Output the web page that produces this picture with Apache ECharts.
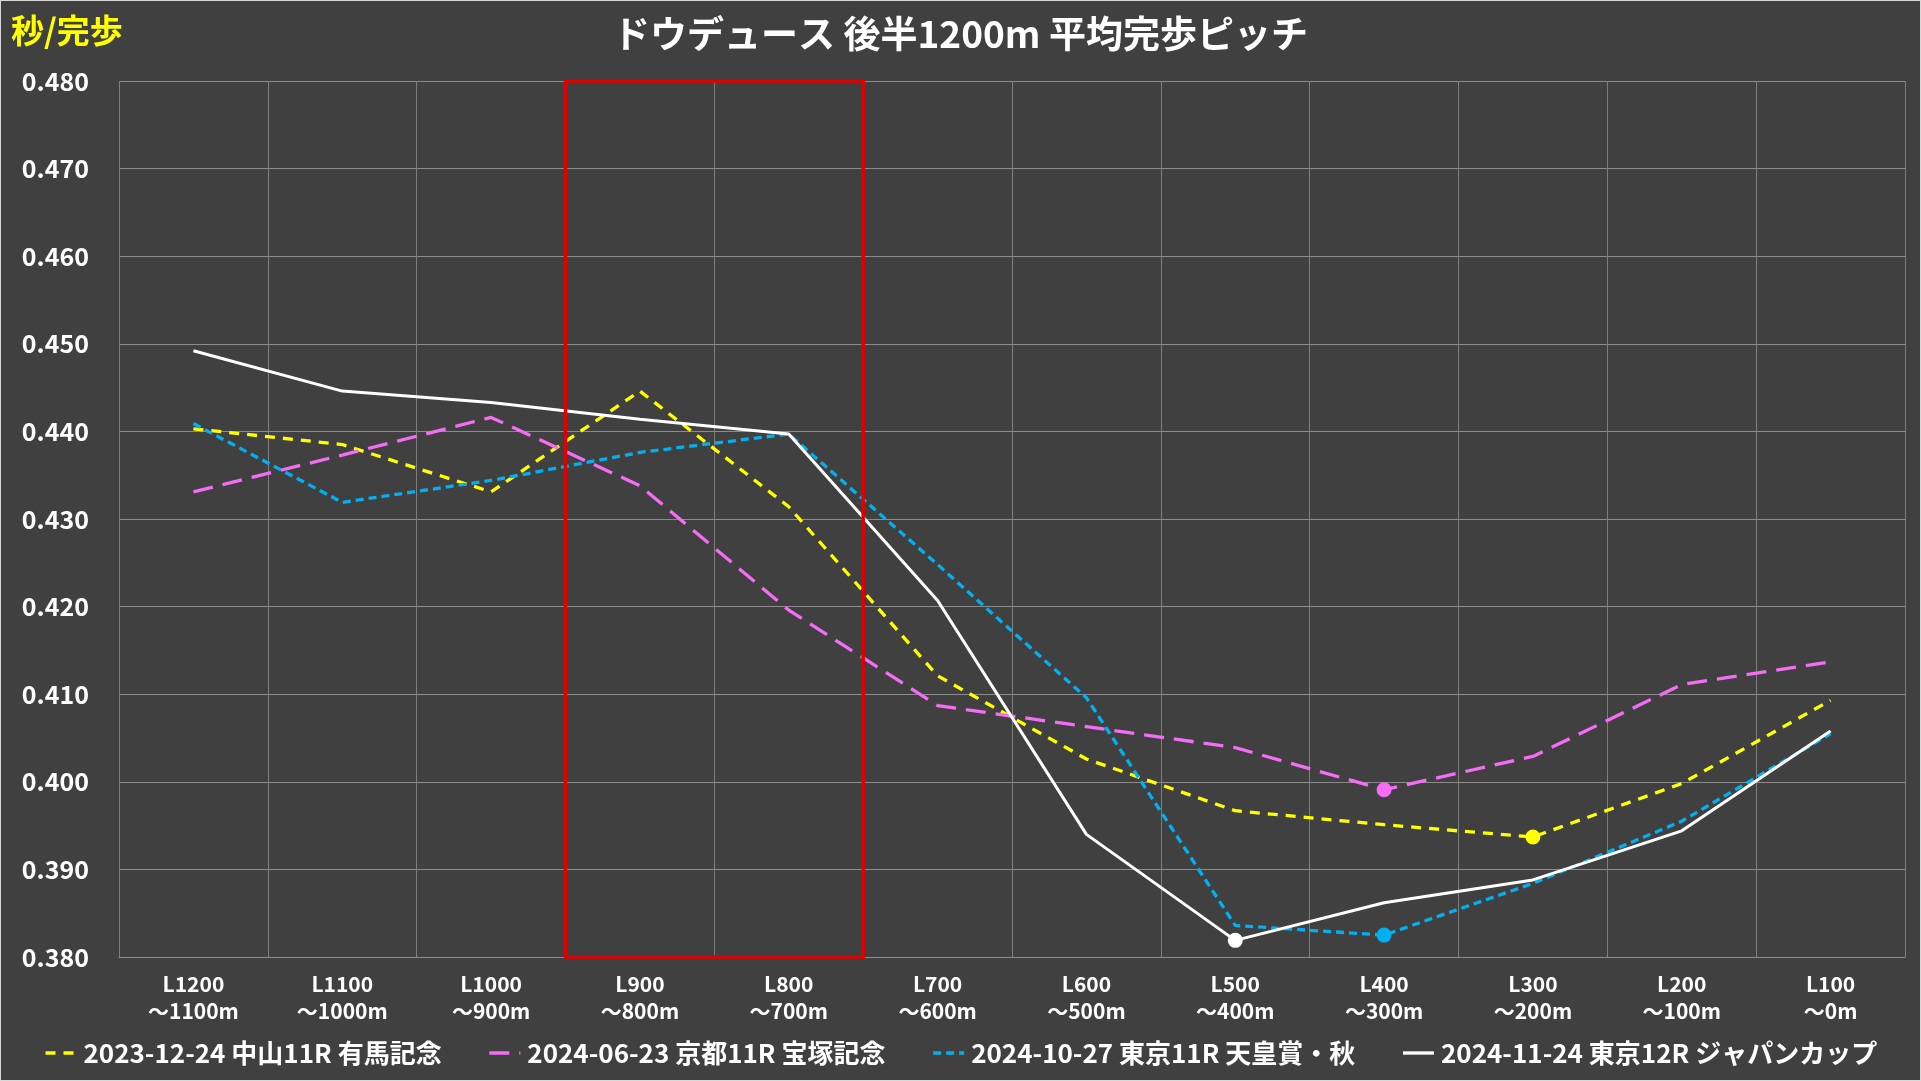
<!DOCTYPE html>
<html>
<head>
<meta charset="utf-8">
<script src="https://cdn.jsdelivr.net/npm/echarts@6/dist/echarts.min.js"></script>
<style>
html,body{margin:0;padding:0;background:#404040;}
#chart{width:1921px;height:1081px;box-sizing:border-box;border:1px solid #D9D9D9;}
</style>
</head>
<body>
<div id="chart"></div>
<script>
const categories = ['L1200','L1100','L1000','L900','L800','L700','L600','L500','L400','L300','L200','L100'];
const rangeLabels = ['～1100m','～1000m','～900m','～800m','～700m','～600m','～500m','～400m','～300m','～200m','～100m','～0m'];
const seriesNames = ['2023-12-24 中山11R 有馬記念','2024-06-23 京都11R 宝塚記念','2024-10-27 東京11R 天皇賞・秋','2024-11-24 東京12R ジャパンカップ'];
const arima2023 = [0.4403,0.4385,0.4331,0.4446,0.4314,0.4121,0.4026,0.3967,0.3951,0.3937,0.3998,0.4093];
const takarazuka2024 = [0.4331,0.4373,0.4416,0.4338,0.4196,0.4087,0.4063,0.4039,0.3991,0.4029,0.4111,0.4137];
const tennoshoAutumn2024 = [0.4409,0.4319,0.4344,0.4376,0.4397,0.4248,0.4096,0.3836,0.3825,0.3884,0.3955,0.4055];
const japanCup2024 = [0.4492,0.4446,0.4433,0.4414,0.4397,0.4207,0.3940,0.3819,0.3862,0.3888,0.3944,0.4058];
const yTicks = {min:0.38, max:0.48, interval:0.01};
const highlightRange = ['L900','L800'];

const FONT = '"Noto Sans CJK JP","Noto Sans",sans-serif';
const chart = echarts.init(document.getElementById('chart'), null, {renderer:'canvas'});

function lineSeries(name, data, color, type, width){
  return {
    name, type:'line', data, symbol:'none', smooth:false,
    lineStyle:{color, width, type},
    itemStyle:{color},
    markPoint:{
      symbol:'circle', symbolSize:15, silent:true,
      label:{show:false},
      itemStyle:{color, opacity:1},
      data:[{type:'min'}]
    }
  };
}

const hStart = categories.indexOf(highlightRange[0]);
const hEnd = categories.indexOf(highlightRange[1]) + 1;

chart.setOption({
  backgroundColor:'#404040',
  animation:false,
  textStyle:{fontFamily:FONT},
  title:[
    {text:'ドウデュース 後半1200m 平均完歩ピッチ', left:'center', top:14, padding:0,
     textStyle:{color:'#FFFFFF', fontSize:37, fontWeight:'bold', fontFamily:FONT}},
    {text:'秒/完歩', left:10, top:13, padding:0,
     textStyle:{color:'#FFFF00', fontSize:33, fontWeight:'bold', fontFamily:FONT}}
  ],
  legend:{
    data:seriesNames, bottom:9, left:'center', itemGap:46, itemWidth:31, itemHeight:14,
    itemStyle:{opacity:0},
    lineStyle:{width:3.3},
    textStyle:{color:'#FFFFFF', fontSize:26, fontWeight:'bold', fontFamily:FONT, padding:[0,0,0,2]}
  },
  grid:{left:118, right:15, top:80, bottom:123, containLabel:false},
  xAxis:[
    {type:'category', data:categories, boundaryGap:true,
     axisLine:{show:true, lineStyle:{color:'#8C8C8C', width:1}},
     axisTick:{show:false},
     splitLine:{show:true, lineStyle:{color:'#7F7F7F', width:1}},
     axisLabel:{color:'#FFFFFF', fontSize:21, fontWeight:'bold', fontFamily:FONT, margin:14, lineHeight:27, interval:0,
       formatter:(v, i)=> v + '\n' + rangeLabels[i]}
    },
    {type:'value', min:0, max:categories.length, show:false}
  ],
  yAxis:{
    type:'value', min:yTicks.min, max:yTicks.max, interval:yTicks.interval,
    axisLine:{show:false}, axisTick:{show:false},
    splitLine:{show:true, lineStyle:{color:'#8C8C8C', width:1}},
    axisLabel:{color:'#FFFFFF', fontSize:25, fontWeight:'bold', fontFamily:FONT, margin:30,
      formatter:v=>v.toFixed(3)}
  },
  series:[
    lineSeries(seriesNames[0], arima2023, '#FFFF00', [10,8], 3.3),
    lineSeries(seriesNames[1], takarazuka2024, '#F56CF5', [20,10], 3.3),
    lineSeries(seriesNames[2], tennoshoAutumn2024, '#00B0F0', [8,5], 3.3),
    lineSeries(seriesNames[3], japanCup2024, '#FFFFFF', 'solid', 3),
    {name:'highlight', type:'line', xAxisIndex:1, data:[], silent:true, z:10,
     markArea:{silent:true, z:10,
       itemStyle:{color:'rgba(0,0,0,0)', borderColor:'#E00000', borderWidth:3.5},
       data:[[{xAxis:hStart, yAxis:yTicks.min},{xAxis:hEnd, yAxis:yTicks.max}]]}
    }
  ]
});
</script>
</body>
</html>
